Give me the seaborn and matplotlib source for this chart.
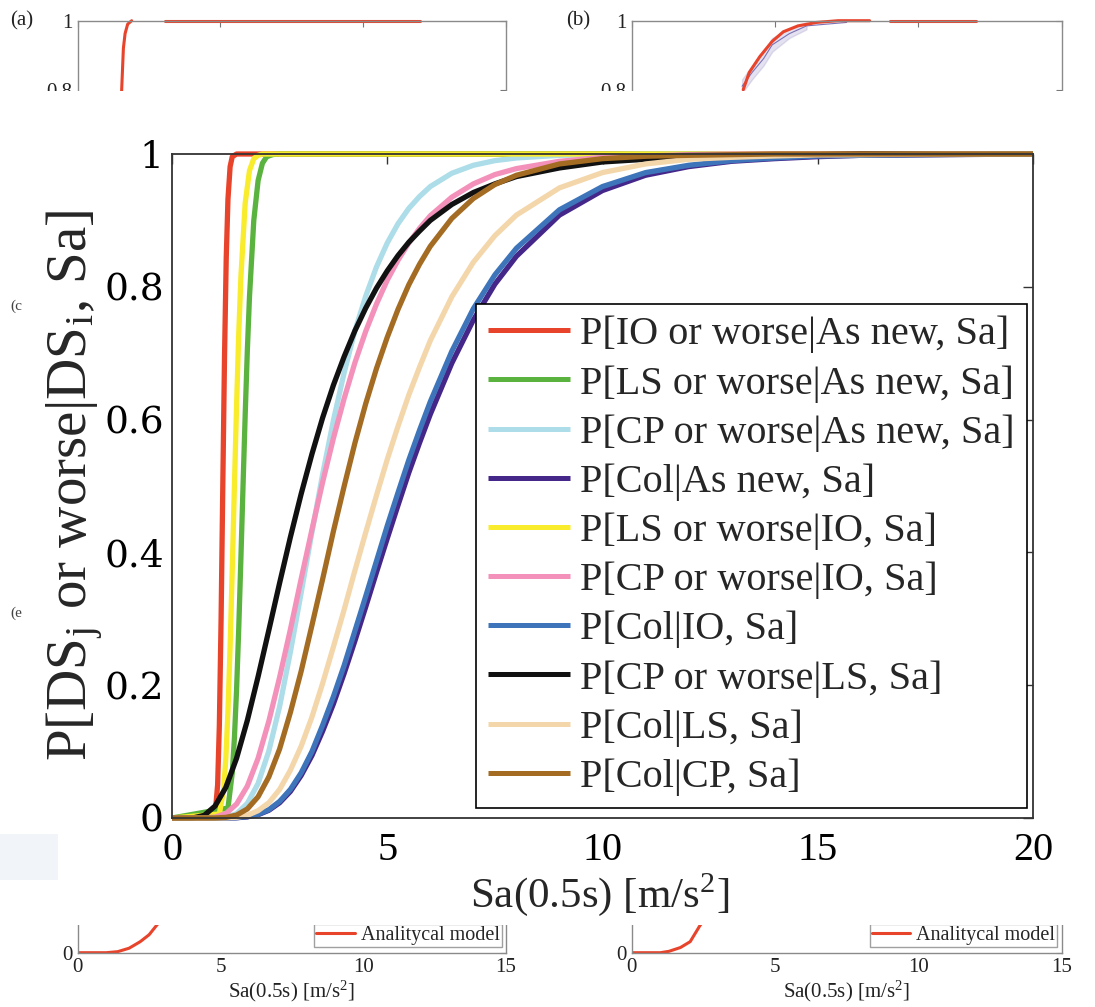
import matplotlib
matplotlib.use("Agg")
import matplotlib.pyplot as plt
import seaborn as sns
import pandas as pd
from matplotlib.patches import Rectangle

# ---------------- data ----------------
LABELS = [
    "P[IO or worse|As new, Sa]",
    "P[LS or worse|As new, Sa]",
    "P[CP or worse|As new, Sa]",
    "P[Col|As new, Sa]",
    "P[LS or worse|IO, Sa]",
    "P[CP or worse|IO, Sa]",
    "P[Col|IO, Sa]",
    "P[CP or worse|LS, Sa]",
    "P[Col|LS, Sa]",
    "P[Col|CP, Sa]",
]
COLORS = ["#E8432B", "#5BB33F", "#ACDDE8", "#45278A", "#F8EC2C",
          "#F391BA", "#3E74B9", "#111111", "#F4D6AB", "#A46C22"]

# steep curves
red_x = [0, 1.0, 1.06, 1.10, 1.14, 1.18, 1.22, 1.26, 1.30, 1.35, 1.40, 1.50, 20]
red_y = [0, 0.005, 0.05, 0.14, 0.298, 0.5, 0.695, 0.844, 0.932, 0.981, 0.996, 1.0, 1.0]
yellow_x = [0, 1.1, 1.2, 1.25, 1.3, 1.35, 1.4, 1.45, 1.5, 1.55, 1.6, 1.7, 1.8, 1.9, 2.0, 2.1, 20]
yellow_y = [0, 0.006, 0.043, 0.089, 0.161, 0.258, 0.375, 0.5, 0.621, 0.728, 0.814, 0.926,
            0.975, 0.993, 0.998, 1.0, 1.0]
green_x = [0, 1.3, 1.4, 1.45, 1.5, 1.55, 1.6, 1.65, 1.7, 1.75, 1.8, 1.9, 2.0, 2.1, 2.2, 2.35, 2.5, 20]
green_y = [0, 0.015, 0.068, 0.121, 0.193, 0.285, 0.390, 0.5, 0.607, 0.704, 0.785, 0.900,
           0.960, 0.986, 0.996, 0.9993, 1.0, 1.0]

# gradual curves, shared Sa grid
sa_grid = [0, 0.5, 0.75, 1.0, 1.25, 1.5, 1.75, 2.0, 2.25, 2.5, 2.75, 3.0, 3.25, 3.5, 3.75, 4.0,
           4.25, 4.5, 4.75, 5.0, 5.25, 5.5, 5.75, 6.0, 6.5, 7.0, 7.5, 8.0,
           9.0, 10.0, 11.0, 12.0, 13.0, 14.0, 15.0, 16.0, 18.0, 20.0]
black_y = [0, 0.0003, 0.004, 0.018, 0.046, 0.090, 0.147, 0.213, 0.283, 0.354, 0.423, 0.488,
           0.548, 0.603, 0.652, 0.695,
           0.734, 0.768, 0.798, 0.824, 0.847, 0.867, 0.884, 0.900, 0.924, 0.942, 0.955, 0.966,
           0.979, 0.988, 0.992, 0.995, 0.997, 0.998, 0.999, 1.0, 1.0, 1.0]
pink_y = [0, 0, 0.0001, 0.0013, 0.0066, 0.021, 0.048, 0.090, 0.146, 0.212, 0.284, 0.360,
          0.434, 0.506, 0.572, 0.632,
          0.686, 0.733, 0.774, 0.810, 0.840, 0.866, 0.888, 0.907, 0.935, 0.955, 0.969, 0.978,
          0.989, 0.995, 0.997, 0.999, 1.0, 1.0, 1.0, 1.0, 1.0, 1.0]
lightblue_y = [0, 0, 0, 0.0001, 0.0012, 0.0064, 0.022, 0.052, 0.101, 0.168, 0.250, 0.339,
               0.430, 0.518, 0.599, 0.671,
               0.734, 0.786, 0.830, 0.866, 0.895, 0.918, 0.936, 0.951, 0.971, 0.983, 0.990, 0.994,
               0.998, 0.999, 1.0, 1.0, 1.0, 1.0, 1.0, 1.0, 1.0, 1.0]
brown_y = [0, 0, 0, 0.0001, 0.0009, 0.0044, 0.0136, 0.032, 0.062, 0.104, 0.159, 0.221,
           0.290, 0.360, 0.432, 0.500,
           0.565, 0.624, 0.677, 0.724, 0.766, 0.803, 0.834, 0.861, 0.903, 0.933, 0.954, 0.968,
           0.985, 0.993, 0.9966, 0.998, 0.999, 1.0, 1.0, 1.0, 1.0, 1.0]
wheat_y = [0, 0, 0, 0, 0.0002, 0.0011, 0.004, 0.011, 0.023, 0.043, 0.072, 0.108,
           0.152, 0.203, 0.258, 0.314,
           0.373, 0.430, 0.486, 0.540, 0.590, 0.637, 0.679, 0.719, 0.785, 0.837, 0.877, 0.908,
           0.949, 0.972, 0.985, 0.992, 0.995, 0.997, 0.9986, 0.999, 1.0, 1.0]
blue_y = [0, 0, 0, 0, 0, 0.0005, 0.002, 0.0054, 0.0125, 0.025, 0.043, 0.068,
          0.100, 0.140, 0.183, 0.230,
          0.282, 0.334, 0.387, 0.440, 0.490, 0.539, 0.584, 0.627, 0.703, 0.767, 0.818, 0.858,
          0.916, 0.951, 0.972, 0.983, 0.990, 0.994, 0.997, 0.998, 0.9993, 1.0]
purple_y = [0, 0, 0, 0, 0, 0.0004, 0.0017, 0.005, 0.0116, 0.023, 0.040, 0.064,
            0.094, 0.131, 0.172, 0.218,
            0.267, 0.318, 0.370, 0.421, 0.471, 0.520, 0.565, 0.608, 0.685, 0.750, 0.804, 0.846,
            0.908, 0.945, 0.968, 0.981, 0.989, 0.993, 0.996, 0.998, 0.999, 1.0]

X_TICKS = [0, 5, 10, 15, 20]
Y_TICKS = [0, 0.2, 0.4, 0.6, 0.8, 1.0]
Y_TICKLABELS = ["0", "0.2", "0.4", "0.6", "0.8", "1"]

# background panels (partly visible behind the inset)
pa_red_x = [1.48, 1.54, 1.60, 1.66, 1.75, 1.89]
pa_red_y = [0.60, 0.80, 0.92, 0.963, 0.99, 1.0]
pa_red2_x = [3.07, 12.0]
pa_red2_y = [1.0, 1.0]
pb_red_x = [3.89, 4.1, 4.47, 4.9, 5.29, 5.8, 6.45, 7.2, 8.3]
pb_red_y = [0.80, 0.85, 0.896, 0.94, 0.968, 0.985, 0.995, 1.0, 1.0]
pb_red2_x = [9.0, 12.0]
pb_red2_y = [1.0, 1.0]
pb_step_x = [3.85, 3.85, 4.2, 4.2, 4.6, 4.6, 4.9, 4.9, 5.5, 5.5, 6.1, 6.1, 7.5]
pb_step_y = [0.79, 0.83, 0.83, 0.87, 0.87, 0.91, 0.91, 0.95, 0.95, 0.975, 0.975, 0.995, 0.995]
pc_red_x = [0, 1.0, 1.4, 1.8, 2.19, 2.5, 2.77, 3.0]
pc_red_y = [0, 0, 0.003, 0.013, 0.032, 0.052, 0.08, 0.10]
pd_red_x = [0, 1.0, 1.3, 1.7, 2.04, 2.39, 2.6]
pd_red_y = [0, 0, 0.004, 0.015, 0.032, 0.08, 0.10]
SMALL_X_TICKS = [0, 5, 10, 15]
TOP_YLABELS = ["", "", "", "", "0.8", "1"]      # only these show above the inset
BOTTOM_YLABELS = ["0", "", "", "", "", ""]       # only this one shows below it
SMALL_XLABEL = r"Sa(0.5s) [m/s$^\mathregular{2}$]"

# ---------------- style ----------------
sns.set_theme(style="white")
plt.rcParams["font.family"] = ["Liberation Serif", "DejaVu Serif"]
plt.rcParams["mathtext.fontset"] = "stix"

W, H = 1095, 1007
fig = plt.figure(figsize=(W / 100, H / 100), dpi=100)


def px_rect(left, top, right, bottom):
    return [left / W, (H - bottom) / H, (right - left) / W, (bottom - top) / H]


def small_panel(rect, bottom_panel):
    a = fig.add_axes(rect)
    a.set_xlim(0, 15)
    a.set_ylim(0, 1)
    a.set_xticks(SMALL_X_TICKS)
    a.set_yticks(Y_TICKS)
    a.tick_params(direction="in", top=True, right=True, length=4, width=0.8,
                  labelsize=15, pad=4, colors="#777777", labelcolor="#222222")
    for s in a.spines.values():
        s.set_color("#8a8a8a")
        s.set_linewidth(1.0)
    if bottom_panel:
        a.set_yticklabels(BOTTOM_YLABELS)
        a.set_xticklabels([str(t) for t in SMALL_X_TICKS])
        a.set_xlabel(SMALL_XLABEL, fontsize=15, labelpad=1, color="#222222")
    else:
        a.set_yticklabels(TOP_YLABELS)
        a.set_xticklabels([])
    return a


# top panels (a), (b)
ax_a = small_panel(px_rect(77.7, 20.7, 506, 365.7), False)
sns.lineplot(x=pa_red_x, y=pa_red_y, ax=ax_a, color="#E8432B", lw=2.2, sort=False)
sns.lineplot(x=pa_red2_x, y=pa_red2_y, ax=ax_a, color="#E8432B", lw=2.2, sort=False)
ax_b = small_panel(px_rect(631.7, 20.7, 1061.7, 365.7), False)
sns.lineplot(x=pb_step_x, y=pb_step_y, ax=ax_b, color="#7b6fb5", lw=0.8, sort=False)
sns.lineplot(x=pb_red_x, y=pb_red_y, ax=ax_b, color="#E8432B", lw=2.2, sort=False)
sns.lineplot(x=pb_red2_x, y=pb_red2_y, ax=ax_b, color="#E8432B", lw=2.2, sort=False)
for a in (ax_a, ax_b):
    for ln in a.lines:
        ln.set_clip_on(False)
fig.text(10 / W, 1 - 21 / H, "(a)", fontsize=15, va="center", ha="left", color="#222222")
fig.text(566 / W, 1 - 21 / H, "(b)", fontsize=15, va="center", ha="left", color="#222222")

# bottom panels
ax_c = small_panel(px_rect(77.7, 607.7, 506, 952.7), True)
sns.lineplot(x=pc_red_x, y=pc_red_y, ax=ax_c, color="#E8432B", lw=2.2, sort=False,
             label="Analitycal model")
ax_d = small_panel(px_rect(631.7, 607.7, 1061.7, 952.7), True)
sns.lineplot(x=pd_red_x, y=pd_red_y, ax=ax_d, color="#E8432B", lw=2.2, sort=False,
             label="Analitycal model")
for a in (ax_c, ax_d):
    lg = a.legend(loc="lower right", bbox_to_anchor=(0.99, 0.017), fontsize=14.5,
                  frameon=True, fancybox=False, edgecolor="#888888", handlelength=1.9,
                  handletextpad=0.3, borderpad=0.1, borderaxespad=0)
    lg.get_frame().set_linewidth(1.0)

# white inset cover
cover = fig.add_axes([0, (H - 925) / H, 1, (925 - 91) / H])
cover.set_axis_off()
cover.add_patch(Rectangle((0, 0), 1, 1, transform=cover.transAxes, color="white", zorder=0))
cover.add_patch(Rectangle((0, (925 - 880) / 834), 58 / W, 46 / 834,
                          transform=cover.transAxes, color="#f1f4f9", zorder=1, lw=0))
fig.text(10 / W, 1 - 306 / H, "(c", fontsize=11, color="#444444", va="center")
fig.text(10 / W, 1 - 613 / H, "(e", fontsize=11, color="#444444", va="center")

# ---------------- main chart ----------------
series = [
    (LABELS[0], red_x, red_y),
    (LABELS[1], green_x, green_y),
    (LABELS[2], sa_grid, lightblue_y),
    (LABELS[3], sa_grid, purple_y),
    (LABELS[4], yellow_x, yellow_y),
    (LABELS[5], sa_grid, pink_y),
    (LABELS[6], sa_grid, blue_y),
    (LABELS[7], sa_grid, black_y),
    (LABELS[8], sa_grid, wheat_y),
    (LABELS[9], sa_grid, brown_y),
]
rows = []
for name, xs, ys in series:
    for xv, yv in zip(xs, ys):
        rows.append({"Sa": xv, "P": yv, "curve": name})
df = pd.DataFrame(rows)

ax = fig.add_axes(px_rect(172, 154, 1033, 818))
sns.lineplot(data=df, x="Sa", y="P", hue="curve", hue_order=LABELS,
             palette=dict(zip(LABELS, COLORS)), lw=3.8, estimator=None,
             sort=False, ax=ax)
for ln in ax.lines:
    ln.set_clip_on(False)
    ln.set_solid_capstyle("butt")
    ln.set_solid_joinstyle("round")

ax.set_xlim(0, 20)
ax.set_ylim(0, 1)
ax.set_xticks(X_TICKS)
ax.set_xticklabels([str(t) for t in X_TICKS], fontsize=29, family="Liberation Serif")
ax.set_yticks(Y_TICKS)
ax.set_yticklabels(Y_TICKLABELS, fontsize=27, family="DejaVu Serif")
ax.tick_params(axis="both", direction="in", top=True, right=True, length=7, width=1.0,
               colors="#333333", labelcolor="black")
ax.tick_params(axis="x", pad=10)
ax.tick_params(axis="y", pad=6)
for s in ax.spines.values():
    s.set_color("#333333")
    s.set_linewidth(1.3)

ax.set_xlabel(r"Sa(0.5s) [m/s$^\mathregular{2}$]", fontsize=31)
ax.xaxis.set_label_coords(0.497, -0.080)
ax.set_ylabel(r"P[DS$_\mathregular{j}$ or worse|DS$_\mathregular{i}$, Sa]", fontsize=41)
ax.yaxis.set_label_coords(-0.077, 0.50)

handles, labels = ax.get_legend_handles_labels()
leg = ax.legend(handles, labels, loc="lower right", bbox_to_anchor=(0.993, 0.015),
                fontsize=29, frameon=True, fancybox=False, edgecolor="black",
                handlelength=2.05, handletextpad=0.25, labelspacing=0.29,
                borderpad=0.3, borderaxespad=0)
leg.get_frame().set_linewidth(1.2)
leg.get_frame().set_alpha(1)
for lh in leg.get_lines():
    lh.set_linewidth(3.6)

fig.savefig("out.png", dpi=100)
